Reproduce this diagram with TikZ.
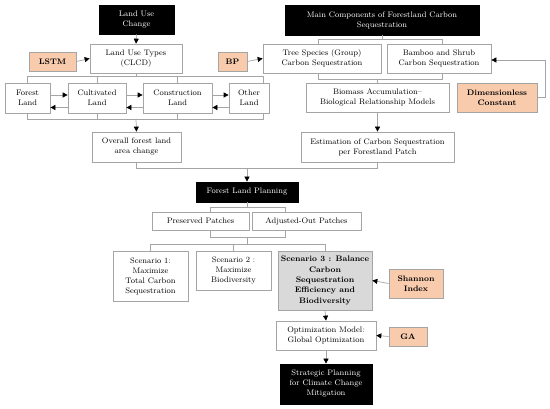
\documentclass[tikz,border=0pt]{standalone}
\usetikzlibrary{arrows.meta,calc}
\definecolor{peach}{RGB}{248,203,173}
\definecolor{lgray}{RGB}{217,217,217}
\definecolor{edge}{RGB}{165,165,165}
\begin{document}
\begin{tikzpicture}[x=1pt,y=-1pt,
 box/.style={draw=edge, line width=0.7pt, fill=white, align=center, inner sep=0pt, font=\fontsize{8}{10}\selectfont},
 dark/.style={box, draw=black, fill=black, text=white},
 peachbox/.style={box, fill=peach, font=\fontsize{8}{10}\selectfont\bfseries},
 graybox/.style={box, fill=lgray, font=\fontsize{8}{10.3}\selectfont\bfseries},
 ln/.style={draw=edge, line width=0.7pt},
 arr/.style={ln, -{Triangle[length=5pt,width=5pt,color=black]}}]
\useasboundingbox (0,0) rectangle (550,409);

% top row
\node[dark, minimum width=75pt, minimum height=29pt] (luc) at (136.5,19.5) {Land Use\\Change};
\node[dark, minimum width=194pt, minimum height=30pt] (mc) at (382,20) {Main Components of Forestland Carbon\\Sequestration};

\node[peachbox, minimum width=47pt, minimum height=19pt] (lstm) at (52.5,61.5) {LSTM};
\node[box, minimum width=92pt, minimum height=29pt] (lut) at (136,58.5) {Land Use Types\\(CLCD)};
\node[peachbox, minimum width=29pt, minimum height=19pt] (bp) at (232.5,61.5) {BP};
\node[box, minimum width=118pt, minimum height=29pt] (tree) at (322,58.5) {Tree Species (Group)\\Carbon Sequestration};
\node[box, minimum width=104pt, minimum height=29pt] (bam) at (439,58.5) {Bamboo and Shrub\\Carbon Sequestration};

% land types
\node[box, minimum width=45pt, minimum height=30pt] (fl) at (27.5,98) {Forest\\Land};
\node[box, minimum width=58pt, minimum height=30pt] (cl) at (97,98) {Cultivated\\Land};
\node[box, minimum width=69pt, minimum height=30pt] (col) at (177.5,98) {Construction\\Land};
\node[box, minimum width=40pt, minimum height=30pt] (ol) at (249,98) {Other\\Land};

\node[box, minimum width=143pt, minimum height=29pt] (bio) at (377.5,97.5) {Biomass Accumulation--\\Biological Relationship Models};
\node[peachbox, minimum width=80pt, minimum height=29pt] (dc) at (497,97.5) {Dimensionless\\Constant};

\node[box, minimum width=89pt, minimum height=30pt] (ofl) at (136.5,147) {Overall forest land\\area change};
\node[box, minimum width=153pt, minimum height=30pt] (est) at (377.5,147) {Estimation of Carbon Sequestration\\per Forestland Patch};

\node[dark, minimum width=102pt, minimum height=20pt] (flp) at (247,192) {Forest Land Planning};
\node[box, minimum width=97pt, minimum height=18pt] (pp) at (200.5,221) {Preserved Patches};
\node[box, minimum width=109pt, minimum height=18pt] (aop) at (306.5,221) {Adjusted-Out Patches};

\node[box, minimum width=75pt, minimum height=50pt] (s1) at (150.5,276) {Scenario 1:\\Maximize\\Total Carbon\\Sequestration};
\node[box, minimum width=75pt, minimum height=39pt] (s2) at (233.5,270.5) {Scenario 2 :\\Maximize\\Biodiversity};
\node[graybox, minimum width=94pt, minimum height=59pt] (s3) at (325,280.5) {Scenario 3 : Balance\\Carbon\\Sequestration\\Efficiency and\\Biodiversity};
\node[peachbox, minimum width=54pt, minimum height=29pt] (si) at (416,283.5) {Shannon\\Index};
\node[box, minimum width=100pt, minimum height=29pt] (opt) at (326,335.5) {Optimization Model:\\Global Optimization};
\node[peachbox, minimum width=38pt, minimum height=19pt] (ga) at (408,336.5) {GA};
\node[dark, minimum width=92pt, minimum height=40pt] (sp) at (326,384) {Strategic Planning\\for Climate Change\\Mitigation};

% helper levels
\coordinate (lyT) at (0,76);
\coordinate (lyB) at (0,119);
\coordinate (my) at (0,39);
\coordinate (by) at (0,79);
\coordinate (jy) at (0,168);
\coordinate (fy1) at (0,207);
\coordinate (fy2) at (0,237);
\coordinate (fy3) at (0,244);
\coordinate (olt) at ([xshift=14pt]ol.north);
\coordinate (olb) at ([xshift=14pt]ol.south);
\coordinate (ppt) at ([xshift=9.5pt]pp.north);
\coordinate (ppb) at ([xshift=9.5pt]pp.south);
\coordinate (aopt) at ([xshift=-21.5pt]aop.north);
\coordinate (aopb) at ([xshift=-21.5pt]aop.south);
\coordinate (treet) at ([xshift=-4pt]tree.north);
\coordinate (treeb) at ([xshift=-4pt]tree.south);
\coordinate (bamt) at ([xshift=3pt]bam.north);
\coordinate (bamb) at ([xshift=3pt]bam.south);

% connectors left branch
\draw[arr] (luc.south) -- (lut.north);
\draw[arr] (lstm.east) -- (lut.west);
\draw[arr] (bp.east) -- (tree.west);
\draw[ln] (lut.south) -- (lut.south |- lyT);
\draw[ln] (fl.north) -- (fl.north |- lyT) -- (olt |- lyT) -- (olt);
\draw[ln] (cl.north) -- (cl.north |- lyT);
\draw[ln] (col.north) -- (col.north |- lyT);
\draw[ln] (fl.south) -- (fl.south |- lyB) -- (olb |- lyB) -- (olb);
\draw[ln] (cl.south) -- (cl.south |- lyB);
\draw[ln] (col.south) -- (col.south |- lyB);
\draw[arr] (lut.south |- lyB) -- (ofl.north);

\draw[arr] ([yshift=3pt]fl.east) -- ([yshift=3pt]cl.west);
\draw[arr] ([yshift=-9.5pt]cl.west) -- ([yshift=-9.5pt]fl.east);
\draw[arr] ([yshift=3pt]cl.east) -- ([yshift=3pt]col.west);
\draw[arr] ([yshift=-9.5pt]col.west) -- ([yshift=-9.5pt]cl.east);
\draw[arr] ([yshift=3pt]col.east) -- ([yshift=3pt]ol.west);
\draw[arr] ([yshift=-9.5pt]ol.west) -- ([yshift=-9.5pt]col.east);

% right branch
\draw[ln] (mc.south) -- (mc.south |- my);
\draw[ln] (treet) -- (treet |- my) -- (bamt |- my) -- (bamt);
\draw[ln] (treeb) -- (treeb |- by) -- (bamb |- by) -- (bamb);
\draw[ln] (bio.north |- by) -- (bio.north);
\draw[arr] (dc.east) -- ++(8,0) |- ([yshift=-1.5pt]bam.east);
\draw[arr] (bio.south) -- (est.north);

% join to planning
\draw[ln] (ofl.south) -- (ofl.south |- jy) -- (est.south |- jy) -- (est.south);
\draw[arr] (flp.north |- jy) -- (flp.north);

% planning brackets
\draw[ln] (flp.south) -- (flp.south |- fy1);
\draw[ln] (ppt) -- (ppt |- fy1) -- (aopt |- fy1) -- (aopt);
\draw[ln] (ppb) -- (ppb |- fy2) -- (aopb |- fy2) -- (aopb);
\draw[ln] (flp.south |- fy2) -- (flp.south |- fy3);
\draw[ln] (s1.north) -- (s1.north |- fy3) -- (s3.north |- fy3) -- (s3.north);
\draw[ln] (s2.north) -- (s2.north |- fy3);

% bottom
\draw[arr] (si.west) -- (s3.east);
\draw[arr] (s3.south) -- (opt.north);
\draw[arr] (ga.west) -- (opt.east);
\draw[arr] (opt.south) -- (sp.north);
\end{tikzpicture}
\end{document}
